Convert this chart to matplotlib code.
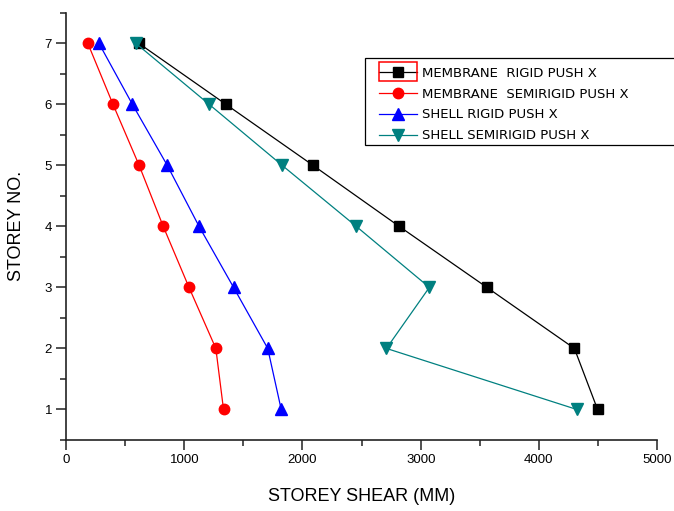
import numpy as np
import matplotlib
matplotlib.use('Agg')
import matplotlib.pyplot as plt
from matplotlib.patches import Rectangle
from matplotlib.ticker import MultipleLocator

# Storey numbers
storeys = [1, 2, 3, 4, 5, 6, 7]

# Storey shear for each model (push in X)
membrane_rigid = [4496, 4300, 3560, 2818, 2089, 1352, 615]
membrane_semirigid = [1332, 1267, 1040, 822, 618, 397, 184]
shell_rigid = [1820, 1706, 1417, 1125, 856, 561, 278]
shell_semirigid = [4320, 2710, 3073, 2455, 1828, 1210, 590]

labels = ['MEMBRANE  RIGID PUSH X', 'MEMBRANE  SEMIRIGID PUSH X',
          'SHELL RIGID PUSH X', 'SHELL SEMIRIGID PUSH X']

plt.rcParams['font.family'] = ['Liberation Sans', 'DejaVu Sans']

fig = plt.figure(figsize=(6.74, 5.11), dpi=100)
ax = fig.add_axes([0.098, 0.139, 0.877, 0.836])

ax.plot(membrane_rigid, storeys, color='black', lw=0.9, marker='s', ms=7, label=labels[0])
ax.plot(membrane_semirigid, storeys, color='red', lw=0.9, marker='o', ms=7.5, label=labels[1])
ax.plot(shell_rigid, storeys, color='blue', lw=0.9, marker='^', ms=8.5, label=labels[2])
ax.plot(shell_semirigid, storeys, color='#008080', lw=0.9, marker='v', ms=8.5, label=labels[3])

ax.set_xlim(0, 5000)
ax.set_ylim(0.5, 7.5)
ax.xaxis.set_major_locator(MultipleLocator(1000))
ax.xaxis.set_minor_locator(MultipleLocator(500))
ax.yaxis.set_major_locator(MultipleLocator(1))
ax.yaxis.set_minor_locator(MultipleLocator(0.5))

for s in ['top', 'right']:
    ax.spines[s].set_visible(False)
for s in ['left', 'bottom']:
    ax.spines[s].set_linewidth(1.2)
    ax.spines[s].set_color('#222222')

ax.tick_params(which='major', direction='out', length=7, width=1.1, labelsize=9.5, pad=3, color='#222222')
ax.tick_params(which='minor', direction='out', length=4, width=1.1, color='#222222')

ax.set_xlabel('STOREY SHEAR (MM)', fontsize=13, labelpad=16)
ax.set_ylabel('STOREY NO.', fontsize=13, labelpad=14)

# legend box runs off the right edge of the axes
box = Rectangle((0.506, 0.691), 0.53, 0.204, transform=ax.transAxes, clip_on=False,
                facecolor='white', edgecolor='black', lw=0.9, zorder=4.5)
ax.add_patch(box)

leg = ax.legend(loc='upper left', bbox_to_anchor=(0.5296, 0.874),
                prop={'family': 'DejaVu Sans', 'size': 9.5}, frameon=False,
                handlelength=2.9, handletextpad=0.35, labelspacing=0.6,
                borderpad=0, borderaxespad=0)
leg.set_zorder(5)

# red box around the first legend sample
fig.canvas.draw()
h = leg.get_lines()[0]
pts = h.get_transform().transform(np.column_stack([h.get_xdata(), h.get_ydata()]))
x0, x1 = pts[:, 0].min(), pts[:, 0].max()
cy = pts[:, 1].mean()
fig.patches.append(Rectangle((x0, cy - 9.5), x1 - x0, 19,
                             transform=None, fill=False, edgecolor='red', lw=1.1))

fig.savefig('out.png', dpi=100)
